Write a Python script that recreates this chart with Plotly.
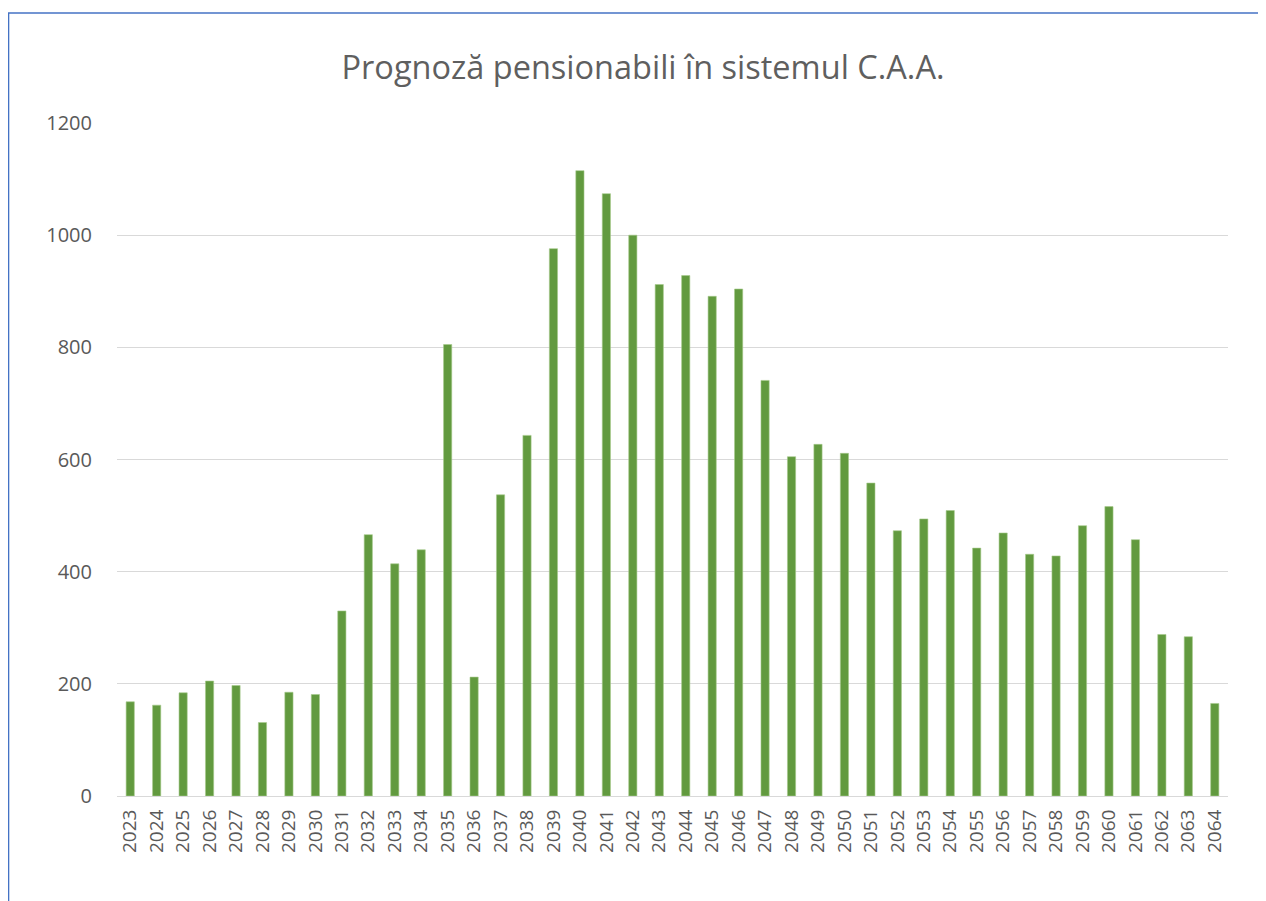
import plotly.graph_objects as go

years = [str(y) for y in range(2023, 2065)]
values = [168, 162, 184, 205, 197, 131, 185, 181, 330, 466, 414, 439, 805, 212,
          537, 643, 976, 1115, 1074, 1000, 912, 928, 891, 904, 741, 605, 627, 611,
          558, 473, 494, 509, 442, 469, 431, 428, 482, 516, 457, 288, 284, 165]
title_text = "Prognoză pensionabili în sistemul C.A.A."
y_ticks = [0, 200, 400, 600, 800, 1000, 1200]

W, H = 1258, 893
L, T = 109, 115
PW, PH = 1111, 673

fig = go.Figure()
fig.add_trace(go.Bar(
    x=years, y=values, width=0.31,
    marker=dict(color="#629A3F", line=dict(color="#A6C98C", width=0.6)),
))

fig.update_layout(
    width=W, height=H,
    margin=dict(l=L, r=W - L - PW, t=T, b=H - T - PH, pad=0),
    paper_bgcolor="white", plot_bgcolor="white",
    showlegend=False,
    title=dict(text=title_text, x=(643 - 8) / W, xanchor="center",
               y=1 - (68 - 8) / H, yanchor="middle",
               font=dict(family="Open Sans", size=32.5, color="#5f5f5f")),
    xaxis=dict(type="category", range=[-0.5, 41.5], tickangle=-90,
               tickfont=dict(family="Open Sans", size=19, color="#595959"),
               showgrid=False, showline=False, ticks="outside", ticklen=5,
               tickcolor="rgba(0,0,0,0)"),
    yaxis=dict(range=[0, 1200], tickvals=y_ticks, showgrid=True, gridcolor="#D9D9D9",
               gridwidth=1, zeroline=True, zerolinecolor="#D9D9D9", zerolinewidth=1,
               tickfont=dict(family="Open Sans", size=20, color="#595959"),
               ticks="outside", ticklen=20, tickcolor="rgba(0,0,0,0)", showline=False),
    shapes=[
        dict(type="line", xref="paper", yref="paper",
             x0=-L / PW, x1=(1254 - L) / PW, y0=1 + (T - 5) / PH, y1=1 + (T - 5) / PH,
             line=dict(color="#4472C4", width=1.5)),
        dict(type="line", xref="paper", yref="paper",
             x0=(1254 - L) / PW, x1=(1254 - L) / PW, y0=1 + (T - 5) / PH, y1=1 + (T - 12) / PH,
             line=dict(color="#4472C4", width=1.5)),
        dict(type="line", xref="paper", yref="paper",
             x0=-L / PW + 0.0005, x1=-L / PW + 0.0005, y0=1 + (T - 5) / PH, y1=-0.5,
             line=dict(color="#4472C4", width=1.5)),
    ],
)

fig.write_html("out.html")
